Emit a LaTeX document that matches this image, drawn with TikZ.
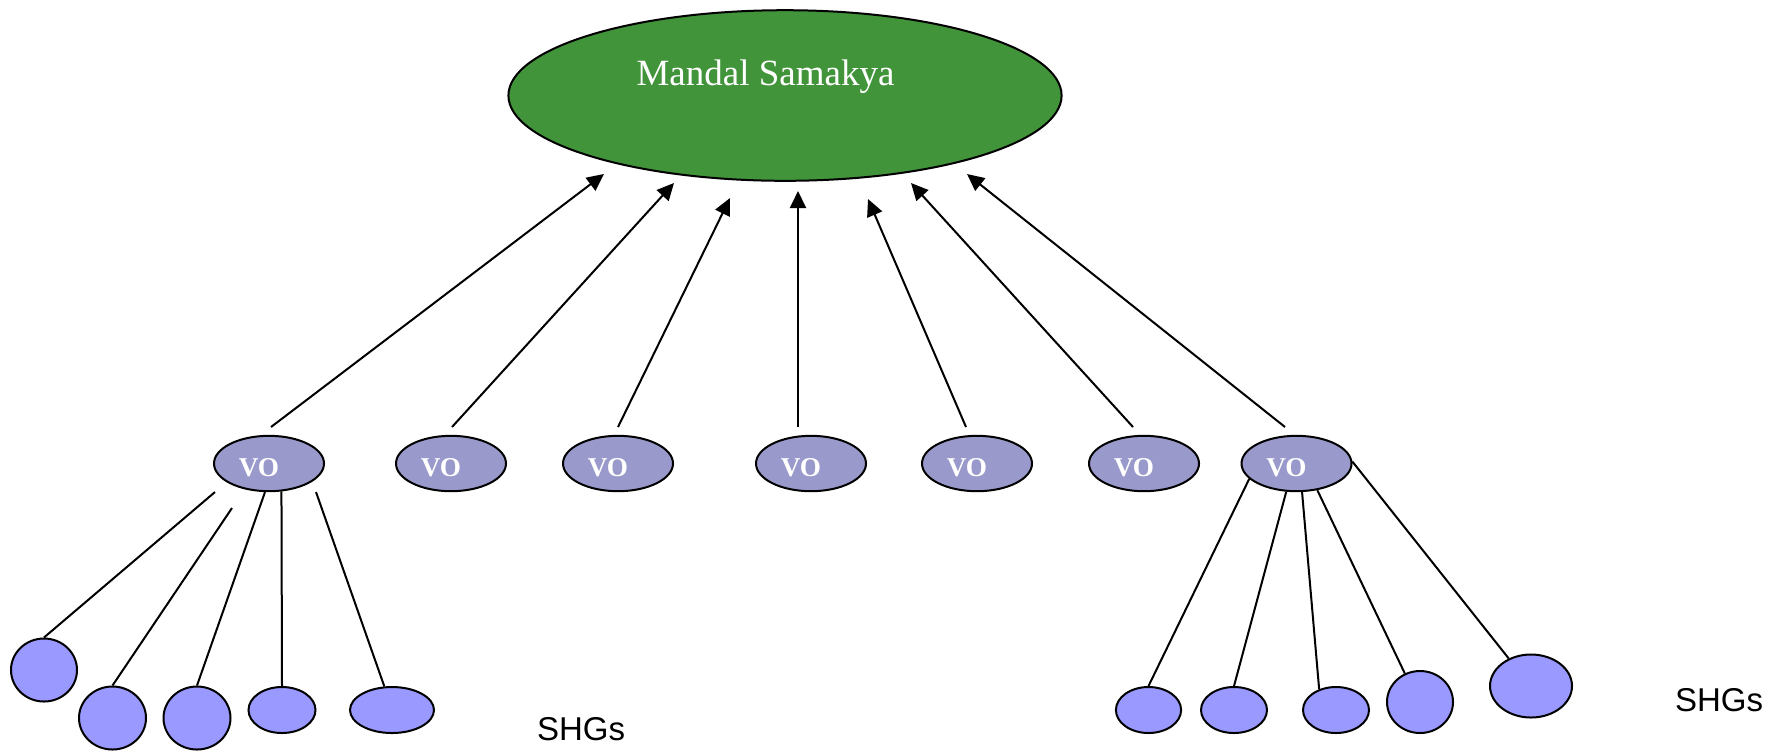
\documentclass[tikz,border=0pt]{standalone}
\usepackage{fontspec}
\setmainfont{Liberation Serif}
\newfontfamily\shgFont{Liberation Sans}
\usetikzlibrary{shapes.geometric, arrows.meta}
\definecolor{samakyaGreen}{RGB}{65,148,58}
\definecolor{voColor}{RGB}{153,153,204}
\definecolor{shgColor}{RGB}{153,153,255}
\tikzstyle{chart} = [x = 0.5pt, y = -0.5pt, line width = 1pt]
\tikzstyle{samakyaStyle} = [ellipse, draw=black, fill=samakyaGreen, line width=1pt, minimum width=276.6pt, minimum height=85.3pt, inner sep=0pt]
\tikzstyle{samakyaText} = [text=white, font=\fontsize{18.5}{22}\selectfont, anchor=base, inner sep=0pt]
\tikzstyle{voStyle} = [ellipse, draw=black, fill=voColor, line width=1pt, minimum width=55pt, minimum height=27.7pt, inner sep=0pt]
\tikzstyle{voText} = [text=white, font=\fontsize{13.6}{16}\selectfont\bfseries, inner sep=0pt]
\tikzstyle{shgStyle} = [ellipse, draw=black, fill=shgColor, line width=1pt, inner sep=0pt]
\tikzstyle{shgText} = [font=\shgFont\fontsize{16.5}{20}\selectfont, anchor=base, inner sep=0pt]
\tikzstyle{arrowLine} = [-{Triangle[length=8.5pt, width=8pt]}, line width=1pt]
\tikzstyle{memberLine} = [line width=1pt]
\newcommand{\voNode}[2]{\node [voStyle] (vo#1) at (#2, 463.5) {}; \node [voText] (voText#1) at (#2 - 10, 468) {VO};}
\newcommand{\shgNode}[5]{\node [shgStyle, minimum width = #4pt, minimum height = #5pt] (#1) at (#2, #3) {};}

\begin{document}
\begin{tikzpicture}[chart]
  \useasboundingbox [fill=white] (0,0) rectangle (1780,752);

  % federation
  \node [samakyaStyle] (ms) at (785, 95.5) {};
  \node [samakyaText] (msText) at (765.5, 85.7) {Mandal Samakya};

  % village organisations
  \voNode{1}{269}
  \voNode{2}{451}
  \voNode{3}{618}
  \voNode{4}{811}
  \voNode{5}{977}
  \voNode{6}{1144}
  \voNode{7}{1296.5}

  \foreach \startX/\tipX/\tipY [count=\i] in {271/604/174, 452/674/183, 618/730/198, 798/798/191, 966/868/199, 1133/911/183, 1285/967/174} {
    \coordinate (arrowStart\i) at (\startX, 427);
    \coordinate (arrowTip\i) at (\tipX, \tipY);
    \draw [arrowLine] (arrowStart\i) -- (arrowTip\i);
  }

  % groups under the first VO
  \shgNode{shgA1}{44}{670}{33}{31.5}
  \shgNode{shgA2}{112.5}{718}{33.5}{31.5}
  \shgNode{shgA3}{197}{718}{33.5}{31.5}
  \shgNode{shgA4}{282}{710}{33.5}{23}
  \shgNode{shgA5}{392}{710}{42}{23}
  \coordinate (lineStartA1) at (215, 492);
  \coordinate (lineStartA2) at (232, 508);
  \coordinate (lineStartA5) at (316, 492);
  \draw [memberLine] (lineStartA1) -- (shgA1.north);
  \draw [memberLine] (lineStartA2) -- (shgA2.north);
  \draw [memberLine] (vo1.262) -- (shgA3.north);
  \draw [memberLine] (vo1.294) -- (shgA4.north);
  \draw [memberLine] (lineStartA5) -- (shgA5.108);
  \node [shgText] (shgLabelA) at (581, 740) {SHGs};

  % groups under the last VO
  \shgNode{shgB1}{1148.5}{710}{32.6}{23}
  \shgNode{shgB2}{1234}{710}{33}{23}
  \shgNode{shgB3}{1336}{710}{33}{23}
  \shgNode{shgB4}{1420}{702}{33}{31}
  \shgNode{shgB5}{1531}{686}{41}{31.5}
  \draw [memberLine] (vo7.198) -- (shgB1.north);
  \draw [memberLine] (vo7.250) -- (shgB2.north);
  \draw [memberLine] (vo7.281) -- (shgB3.129);
  \draw [memberLine] (vo7.308) -- (shgB4.118);
  \draw [memberLine] (vo7.2) -- (shgB5.129);
  \node [shgText] (shgLabelB) at (1719, 711) {SHGs};
\end{tikzpicture}
\end{document}
